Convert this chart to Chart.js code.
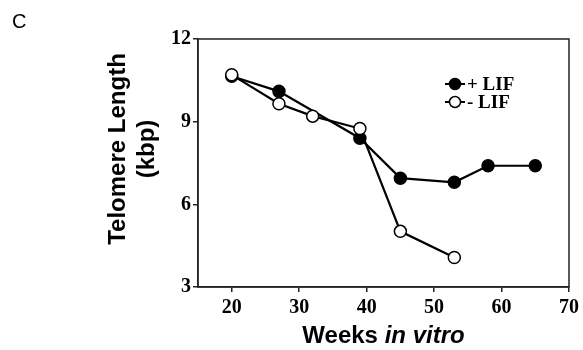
<!DOCTYPE html>
<html>
<head>
<meta charset="utf-8">
<script src="https://cdn.jsdelivr.net/npm/chart.js@4.4.1/dist/chart.umd.min.js"></script>
<style>
  html, body { margin: 0; padding: 0; background: #fff; }
  #wrap { width: 583px; height: 350px; position: relative; }
</style>
</head>
<body>
<div id="wrap"><canvas id="chart" width="583" height="350"></canvas></div>
<script>
// weeks in vitro for each series
const weeksPlus = [20, 27, 39, 45, 53, 58, 65];
const lengthPlus = [10.65, 10.1, 8.4, 6.95, 6.8, 7.4, 7.4];   // + LIF (kbp)
const weeksMinus = [20, 27, 32, 39, 45, 53];
const lengthMinus = [10.7, 9.65, 9.2, 8.75, 5.02, 4.07];       // - LIF (kbp)
const xTicks = [20, 30, 40, 50, 60, 70];
const yTicks = [3, 6, 9, 12];
const legendLabels = ['+ LIF', '- LIF'];

const tickFont = { family: 'Liberation Serif', size: 20, weight: 'bold' };

// frame, titles, panel letter and legend
const extras = {
    id: 'extras',
    afterDraw(chart) {
        const ctx = chart.ctx;
        const a = chart.chartArea;
        ctx.save();
        ctx.strokeStyle = '#222';
        ctx.lineWidth = 1.5;
        ctx.strokeRect(a.left, a.top, a.right - a.left, a.bottom - a.top);

        ctx.fillStyle = '#000';
        ctx.font = '20px "Liberation Sans"';
        ctx.textBaseline = 'alphabetic';
        ctx.textAlign = 'left';
        ctx.fillText('C', 12, 28);

        // x title: "Weeks " bold + "in vitro" bold italic
        ctx.font = 'bold 24px "Liberation Sans"';
        const w1 = ctx.measureText('Weeks ').width;
        ctx.font = 'italic bold 24px "Liberation Sans"';
        const w2 = ctx.measureText('in vitro').width;
        let x0 = (a.left + a.right) / 2 - (w1 + w2) / 2;
        ctx.font = 'bold 24px "Liberation Sans"';
        ctx.fillText('Weeks ', x0, 343);
        ctx.font = 'italic bold 24px "Liberation Sans"';
        ctx.fillText('in vitro', x0 + w1, 343);

        // y title, two lines
        ctx.translate(0, 149);
        ctx.rotate(-Math.PI / 2);
        ctx.textAlign = 'center';
        ctx.font = 'bold 24px "Liberation Sans"';
        ctx.fillText('Telomere Length', 0, 125);
        ctx.fillText('(kbp)', 0, 154);
        ctx.restore();

        // legend
        ctx.save();
        const rows = [84, 102];
        chart.data.datasets.slice().sort((p, q) => p.legendIndex - q.legendIndex).forEach((ds, i) => {
            const y = rows[i];
            ctx.strokeStyle = '#000';
            ctx.lineWidth = 2;
            ctx.beginPath();
            ctx.moveTo(445, y);
            ctx.lineTo(465, y);
            ctx.stroke();
            ctx.beginPath();
            ctx.arc(455, y, 5.5, 0, Math.PI * 2);
            ctx.fillStyle = ds.pointBackgroundColor;
            ctx.fill();
            ctx.lineWidth = 1.5;
            ctx.stroke();
            ctx.fillStyle = '#000';
            ctx.font = 'bold 19px "Liberation Serif"';
            ctx.textAlign = 'left';
            ctx.textBaseline = 'middle';
            ctx.fillText(legendLabels[i], 467, y + 1);
        });
        ctx.restore();
    }
};

new Chart(document.getElementById('chart').getContext('2d'), {
    type: 'line',
    data: {
        datasets: [{
            label: legendLabels[0],
            legendIndex: 0,
            order: 1,
            data: weeksPlus.map((w, i) => ({ x: w, y: lengthPlus[i] })),
            borderColor: '#000',
            borderWidth: 2.2,
            pointRadius: 6,
            pointBorderWidth: 1.5,
            pointBackgroundColor: '#000',
            pointBorderColor: '#000',
            tension: 0
        }, {
            label: legendLabels[1],
            legendIndex: 1,
            order: 0,
            data: weeksMinus.map((w, i) => ({ x: w, y: lengthMinus[i] })),
            borderColor: '#000',
            borderWidth: 2.2,
            pointRadius: 6,
            pointBorderWidth: 1.5,
            pointBackgroundColor: '#fff',
            pointBorderColor: '#000',
            tension: 0
        }]
    },
    options: {
        responsive: false,
        animation: false,
        layout: { padding: { top: 39, right: 13, left: 0, bottom: 0 } },
        plugins: { legend: { display: false }, tooltip: { enabled: false } },
        scales: {
            x: {
                type: 'linear',
                min: 15,
                max: 70,
                afterBuildTicks(axis) { axis.ticks = xTicks.map(v => ({ value: v })); },
                afterFit(axis) { axis.height = 63; },
                grid: { drawOnChartArea: false, color: '#222', tickLength: 5, lineWidth: 1.5 },
                border: { display: true, color: '#222', width: 1.5 },
                ticks: { color: '#000', font: tickFont, padding: 4, maxRotation: 0 }
            },
            y: {
                min: 3,
                max: 12,
                afterBuildTicks(axis) { axis.ticks = yTicks.map(v => ({ value: v })); },
                afterFit(axis) { axis.width = 198; },
                grid: { drawOnChartArea: false, color: '#222', tickLength: 5, lineWidth: 1.5 },
                border: { display: true, color: '#222', width: 1.5 },
                ticks: { color: '#000', font: tickFont, padding: 2 }
            }
        }
    },
    plugins: [extras]
});
</script>
</body>
</html>
